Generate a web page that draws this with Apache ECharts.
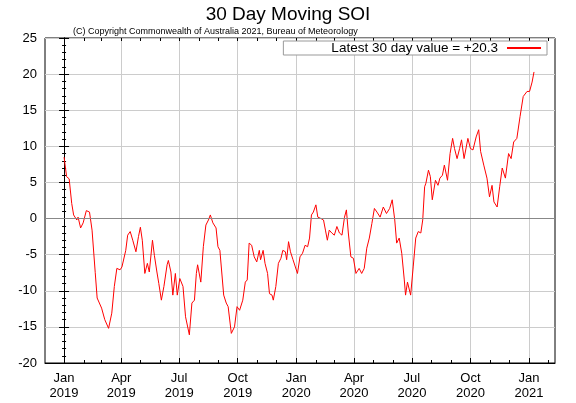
<!DOCTYPE html>
<html><head><meta charset="utf-8">
<script src="https://cdn.jsdelivr.net/npm/echarts@6/dist/echarts.min.js"></script>
<style>html,body{margin:0;padding:0;background:#fff}#c{width:576px;height:403px}</style>
</head><body><div id="c"></div>
<script>
// days since 2019-01-01
const dayOffsets = [0,4,8,12,15,20,22,26,30,35,40,44,49,52,59,64,70,75,79,83,88,91,97,100,104,108,113,117,120,123,127,131,134,139,142,146,149,153,157,162,164,168,171,175,178,182,187,191,197,201,205,208,210,215,219,223,227,230,234,239,242,245,251,255,258,263,268,
272,276,281,285,288,291,295,299,303,307,309,313,316,320,323,327,329,333,337,341,344,348,350,353,356,360,363,367,371,375,379,383,386,389,392,396,399,404,408,411,414,417,421,425,429,433,437,441,444,447,451,455,459,464,468,472,476,480,484,488,492,497,502,507,512,516,520,523,527,531,535,537,540,545,549,553,557,561,564,567,
569,573,576,579,584,588,591,595,598,603,607,611,614,618,622,625,629,635,639,643,648,652,655,660,665,669,673,676,681,685,689,694,699,703,707,712,717,722,728,732,736,739];
const soiValues = [8.5,5.8,5.5,2.1,0.5,-0.2,0.2,-1.3,-0.6,1.1,0.9,-1.6,-7.5,-11,-12.4,-14,-15.2,-13.1,-9.4,-6.9,-7.1,-6.7,-4.4,-2.3,-1.8,-3,-4.6,-2.5,-1.2,-3,-7.6,-6.2,-7.4,-3,-5.1,-7.4,-9,-11.3,-9.4,-6.4,-5.8,-7.4,-10.6,-7.6,-10.6,-8.3,-9.4,-13.6,-16.1,-11.7,-11.3,-7.6,-6.4,-8.8,-3.9,-0.9,-0.2,0.5,-0.6,-1.3,-3.9,-4.4,-10.6,-11.7,-12.2,-15.9,-15,
-12.2,-12.7,-11.3,-8.8,-8.5,-3.4,-3.7,-5.3,-6,-4.4,-5.7,-4.4,-6.2,-7.6,-10.4,-10.6,-11.3,-9.4,-6.2,-5.5,-4.4,-4.6,-5.7,-3.2,-4.6,-5.7,-5.5,-7.6,-5.3,-4.8,-3.7,-3.9,-2.7,0.5,0.9,1.9,0.2,0,-0.2,-1.6,-3,-1.6,-2,-2.3,-1.1,-2,-2.3,0.2,1.2,-2,-5.3,-5.5,-7.6,-6.9,-7.6,-6.9,-4.1,-2.7,-0.7,1.4,0.9,0.2,1.6,0.7,1.4,2.6,-0.2,-3.4,-2.7,-4.8,-8.5,-10.6,-8.8,-10.6,-6.7,-2.7,-1.8,-2,-0.2,4.4,
4.9,6.7,5.8,2.6,5.3,4.6,5.6,6,7.4,5.3,9,11.1,9.7,8.3,9.7,10.9,8.3,11.1,9.7,9.5,11.3,12.3,9.3,7.4,5.6,3,4.6,2.3,1.6,4.4,7,5.6,9,8.3,10.6,11.1,14.1,16.9,17.6,17.6,18.9,20.3];
const tickDays = [0,90,181,273,365,456,547,639,731];
const tickLabels = ['Jan\n2019','Apr\n2019','Jul\n2019','Oct\n2019','Jan\n2020','Apr\n2020','Jul\n2020','Oct\n2020','Jan\n2021'];
const monthDays = [-31,0,31,59,90,120,151,181,212,243,273,304,334,365,396,425,456,486,517,547,578,609,639,670,700,731,762];
const seriesName = 'Latest 30 day value = +20.3';

const chart = echarts.init(document.getElementById('c'));
const F = 'Liberation Sans, Arial, sans-serif';
const bx = {type:'value',min:-30,max:772,gridIndex:0};
chart.setOption({
  animation:false,
  title:[{text:'30 Day Moving SOI',left:'center',top:5,padding:0,textStyle:{fontFamily:F,fontSize:19,fontWeight:'normal',color:'#000'}},
         {text:'(C) Copyright Commonwealth of Australia 2021, Bureau of Meteorology',left:73,top:27,padding:0,textStyle:{fontFamily:F,fontSize:9,fontWeight:'normal',color:'#000'}}],
  legend:{right:29,top:41,itemWidth:34,itemHeight:2,itemGap:6,borderColor:'#999',borderWidth:1,backgroundColor:'#fff',padding:[0,6,0,48],
    data:[{name:seriesName,icon:'rect',itemStyle:{color:'#ff0000'}}],
    textStyle:{fontFamily:F,fontSize:13.5,color:'#000',padding:[0,4,0,0]},align:'right'},
  grid:{left:45,right:21,top:38,bottom:40,show:true,borderColor:'#000',borderWidth:1},
  xAxis:[Object.assign({},bx,{position:'bottom',
    axisLine:{onZero:false,lineStyle:{color:'#000'}},
    axisTick:{customValues:tickDays,length:5,inside:true,lineStyle:{color:'#000'}},
    axisLabel:{customValues:tickDays,formatter:v=>tickLabels[tickDays.indexOf(v)]||'',fontFamily:F,fontSize:13,color:'#000',lineHeight:15,margin:8},
    splitLine:{show:true,lineStyle:{color:'#ccc'}}}),
    Object.assign({},bx,{position:'bottom',axisLine:{show:false,onZero:false},axisLabel:{show:false},splitLine:{show:false},
      axisTick:{show:true,customValues:monthDays,length:3,inside:true,lineStyle:{color:'#000'}}}),
    Object.assign({},bx,{position:'top',axisLine:{show:false,onZero:false},axisLabel:{show:false},splitLine:{show:false},
      axisTick:{show:true,customValues:monthDays,length:3,inside:true,lineStyle:{color:'#000'}}})],
  yAxis:[{type:'value',min:-20,max:25,interval:5,
    axisLine:{show:true,lineStyle:{color:'#000'}},
    axisTick:{show:true,inside:true,length:5,lineStyle:{color:'#000'}},
    minorTick:{show:true,splitNumber:5,length:2,lineStyle:{color:'#000'}},
    axisLabel:{fontFamily:F,fontSize:13,color:'#000'},
    splitLine:{show:true,lineStyle:{color:'#ccc'}}},
    {type:'value',min:-20,max:25,interval:5,position:'right',
    axisLine:{show:true,lineStyle:{color:'#000'}},
    axisTick:{show:true,inside:true,length:5,lineStyle:{color:'#000'}},
    minorTick:{show:true,splitNumber:5,length:2,lineStyle:{color:'#000'}},
    axisLabel:{show:false},splitLine:{show:false}}],
  series:[{name:seriesName,type:'line',data:dayOffsets.map((d,i)=>[d,soiValues[i]]),
    showSymbol:false,lineStyle:{color:'#ff0000',width:1},itemStyle:{color:'#ff0000'},
    markLine:{silent:true,symbol:'none',label:{show:false},lineStyle:{color:'#888',type:'solid',width:1},data:[{yAxis:0}]}}]
});
</script></body></html>
